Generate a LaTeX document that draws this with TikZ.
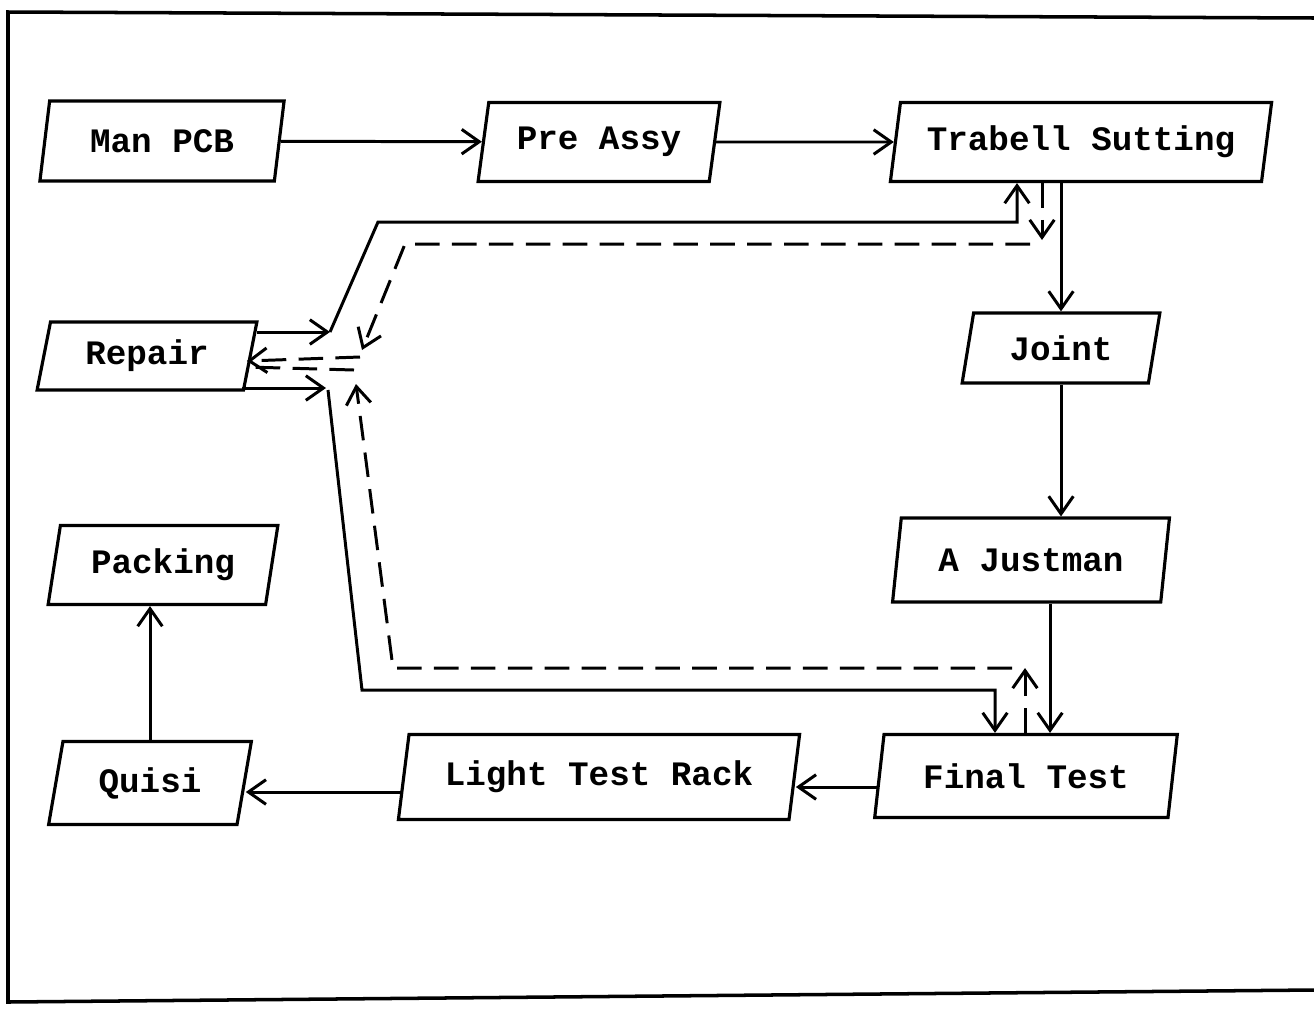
\documentclass[tikz,border=0pt]{standalone}
\usepackage{fontspec}
\setmonofont{Liberation Mono}
\usetikzlibrary{shapes.geometric,arrows.meta}
\begin{document}
\begin{tikzpicture}[x=0.02cm,y=-0.02cm,
  box/.style={draw, line width=1.8pt, trapezium, trapezium left angle=75, trapezium right angle=105,
    trapezium stretches=true, inner sep=0pt,
    font=\ttfamily\bfseries\fontsize{19.5}{22}\selectfont},
  ln/.style={line width=1.7pt},
  tip/.style={-{Straight Barb[length=10pt,width=14pt]}},
  arr/.style={ln, tip},
  dsh/.style={line width=1.7pt, dash pattern=on 14pt off 7pt},
  darr/.style={dsh, tip}]
\useasboundingbox (0,0) rectangle (1314,1008);
% frame
\draw[line width=2pt] (1314,18) -- (8,12) -- (8,1002) -- (1314,990);
% nodes
\node[box, minimum width=4.9cm,  minimum height=1.6cm]  (manpcb)    at (162,141)  {Man PCB};
\node[box, minimum width=4.84cm, minimum height=1.58cm] (preassy)   at (599,142)  {Pre Assy};
\node[box, minimum width=7.64cm, minimum height=1.58cm] (trabell)   at (1081,142) {Trabell Sutting};
\node[box, minimum width=4.4cm,  minimum height=1.36cm] (repair)    at (147,356)  {Repair};
\node[box, minimum width=3.96cm, minimum height=1.4cm]  (joint)     at (1061,348) {Joint};
\node[box, minimum width=5.54cm, minimum height=1.68cm] (ajustman)  at (1031,560) {A Justman};
\node[box, minimum width=4.6cm,  minimum height=1.58cm] (packing)   at (163,565)  {Packing};
\node[box, minimum width=4.08cm, minimum height=1.66cm] (quisi)     at (150,783)  {Quisi};
\node[box, minimum width=8.04cm, minimum height=1.7cm]  (ltr)       at (599,777)  {Light Test Rack};
\node[box, minimum width=6.06cm, minimum height=1.66cm] (finaltest) at (1026,776) {Final Test};
% main flow
\draw[arr] (manpcb) -- (preassy);
\draw[arr] (preassy) -- (trabell);
\draw[arr] (trabell.south -| joint.north) -- (joint.north);
\draw[arr] (joint.south) -- (joint.south |- ajustman.north);
\draw[arr] ([xshift=0.38cm]ajustman.south) -- ([xshift=0.38cm]ajustman.south |- finaltest.north);
\draw[arr] ([yshift=-0.22cm]finaltest.west) -- ([yshift=-0.22cm]finaltest.west -| ltr.east);
\draw[arr] ([yshift=-0.3cm]ltr.west) -- ([yshift=-0.3cm]ltr.west -| quisi.east);
\draw[arr] (quisi.north) -- (quisi.north |- packing.south);
% repair loop with Trabell Sutting
\coordinate (a1) at (330,332);
\draw[arr] ([xshift=0.1cm]repair.east |- a1) -- (a1);
\draw[arr] (a1) -- (378,222) -- (1017,222) -- (1017,222 |- trabell.south);
\draw[darr] (1042,0 |- trabell.south) -- (1042,240);
\draw[darr] (1030,244) -- (405,244) -- (362,350);
\draw[darr] (360,357) -- ([xshift=-0.1cm]repair.east |- 0,361);
% repair loop with Final Test
\coordinate (b1) at (326,388);
\draw[arr] ([xshift=-0.2cm]repair.east |- b1) -- (b1);
\draw[arr] (328,390) -- (362,690) -- (995,690) -- (995,690 |- finaltest.north);
\draw[darr] (1025,0 |- finaltest.north) -- (1025,668);
\draw[darr] (1012,668) -- (393,668) -- (356,384);
\draw[dsh] (354,370) -- ([xshift=-0.1cm]repair.east |- 0,367);
\end{tikzpicture}
\end{document}
